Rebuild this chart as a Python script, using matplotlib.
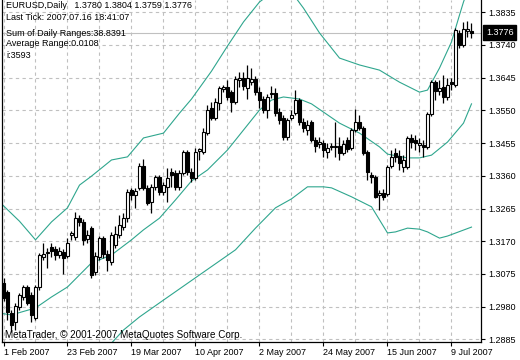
import numpy as np

from matplotlib import pyplot as plt
from matplotlib.transforms import blended_transform_factory

plt.rcParams['font.family'] = ['Liberation Sans', 'DejaVu Sans']

# daily EURUSD bars, 1 Feb 2007 .. 16 Jul 2007 (one entry per trading day)
opens = [1.3049, 1.3023, 1.2961, 1.2935, 1.2979, 1.3008, 1.3037, 1.3014, 1.2947, 1.3037,
         1.3124, 1.3136, 1.3153, 1.3147, 1.3130, 1.3139, 1.3127, 1.3188, 1.3182, 1.3237,
         1.3226, 1.3176, 1.3208, 1.3081, 1.3124, 1.3179, 1.3133, 1.3110, 1.3159, 1.3188,
         1.3211, 1.3237, 1.3319, 1.3304, 1.3325, 1.3389, 1.3325, 1.3284, 1.3328, 1.3357,
         1.3313, 1.3328, 1.3371, 1.3368, 1.3328, 1.3368, 1.3429, 1.3371, 1.3354, 1.3432,
         1.3429, 1.3484, 1.3557, 1.3528, 1.3571, 1.3612, 1.3618, 1.3603, 1.3574, 1.3638,
         1.3644, 1.3615, 1.3632, 1.3641, 1.3603, 1.3583, 1.3551, 1.3598, 1.3601, 1.3545,
         1.3528, 1.3473, 1.3528, 1.3542, 1.3580, 1.3516, 1.3493, 1.3516, 1.3464, 1.3452,
         1.3455, 1.3429, 1.3444, 1.3444, 1.3447, 1.3426, 1.3464, 1.3441, 1.3493, 1.3516,
         1.3499, 1.3429, 1.3362, 1.3357, 1.3304, 1.3310, 1.3307, 1.3389, 1.3426, 1.3418,
         1.3386, 1.3386, 1.3470, 1.3464, 1.3449, 1.3449, 1.3444, 1.3539, 1.3632, 1.3606,
         1.3618, 1.3589, 1.3632, 1.3624, 1.3775, 1.3740, 1.3781, 1.3780]
highs = [1.3063, 1.3028, 1.2970, 1.2990, 1.3020, 1.3043, 1.3043, 1.3023, 1.3043, 1.3136,
         1.3165, 1.3150, 1.3165, 1.3156, 1.3153, 1.3147, 1.3179, 1.3200, 1.3255, 1.3246,
         1.3234, 1.3203, 1.3214, 1.3139, 1.3185, 1.3185, 1.3145, 1.3197, 1.3214, 1.3246,
         1.3252, 1.3322, 1.3325, 1.3325, 1.3397, 1.3409, 1.3333, 1.3336, 1.3362, 1.3362,
         1.3342, 1.3383, 1.3383, 1.3377, 1.3377, 1.3435, 1.3435, 1.3383, 1.3441, 1.3441,
         1.3499, 1.3566, 1.3574, 1.3586, 1.3621, 1.3624, 1.3638, 1.3609, 1.3650, 1.3662,
         1.3662, 1.3682, 1.3673, 1.3650, 1.3618, 1.3592, 1.3598, 1.3621, 1.3615, 1.3557,
         1.3537, 1.3528, 1.3551, 1.3609, 1.3586, 1.3528, 1.3522, 1.3522, 1.3473, 1.3473,
         1.3464, 1.3455, 1.3455, 1.3516, 1.3473, 1.3464, 1.3473, 1.3499, 1.3554, 1.3537,
         1.3505, 1.3435, 1.3371, 1.3362, 1.3319, 1.3322, 1.3391, 1.3435, 1.3441, 1.3435,
         1.3420, 1.3476, 1.3481, 1.3478, 1.3470, 1.3464, 1.3545, 1.3638, 1.3638, 1.3638,
         1.3653, 1.3644, 1.3644, 1.3789, 1.3784, 1.3807, 1.3810, 1.3804]
lows = [1.2996, 1.2941, 1.2906, 1.2912, 1.2970, 1.2999, 1.2985, 1.2935, 1.2941, 1.3028,
        1.3116, 1.3092, 1.3124, 1.3116, 1.3121, 1.3075, 1.3121, 1.3174, 1.3174, 1.3214,
        1.3159, 1.3165, 1.3063, 1.3072, 1.3116, 1.3121, 1.3083, 1.3101, 1.3150, 1.3179,
        1.3203, 1.3226, 1.3290, 1.3267, 1.3319, 1.3319, 1.3275, 1.3252, 1.3319, 1.3304,
        1.3304, 1.3284, 1.3328, 1.3319, 1.3319, 1.3362, 1.3362, 1.3342, 1.3348, 1.3406,
        1.3423, 1.3478, 1.3522, 1.3522, 1.3551, 1.3603, 1.3580, 1.3545, 1.3569, 1.3618,
        1.3609, 1.3583, 1.3624, 1.3595, 1.3557, 1.3542, 1.3528, 1.3586, 1.3534, 1.3511,
        1.3464, 1.3464, 1.3522, 1.3537, 1.3508, 1.3487, 1.3478, 1.3458, 1.3429, 1.3441,
        1.3415, 1.3412, 1.3435, 1.3415, 1.3406, 1.3420, 1.3429, 1.3435, 1.3487, 1.3493,
        1.3420, 1.3348, 1.3339, 1.3296, 1.3261, 1.3290, 1.3302, 1.3383, 1.3400, 1.3377,
        1.3371, 1.3380, 1.3441, 1.3435, 1.3429, 1.3415, 1.3438, 1.3534, 1.3580, 1.3595,
        1.3571, 1.3580, 1.3609, 1.3618, 1.3731, 1.3734, 1.3763, 1.3759]
closes = [1.3005, 1.2964, 1.2927, 1.2982, 1.3014, 1.3037, 1.2990, 1.2956, 1.3037, 1.3130,
          1.3133, 1.3139, 1.3142, 1.3130, 1.3142, 1.3121, 1.3165, 1.3194, 1.3237, 1.3226,
          1.3174, 1.3188, 1.3072, 1.3127, 1.3179, 1.3133, 1.3116, 1.3188, 1.3191, 1.3217,
          1.3237, 1.3313, 1.3304, 1.3316, 1.3389, 1.3325, 1.3281, 1.3328, 1.3357, 1.3313,
          1.3333, 1.3354, 1.3362, 1.3328, 1.3368, 1.3429, 1.3371, 1.3354, 1.3429, 1.3438,
          1.3487, 1.3551, 1.3528, 1.3574, 1.3615, 1.3618, 1.3589, 1.3574, 1.3641, 1.3644,
          1.3621, 1.3644, 1.3641, 1.3603, 1.3580, 1.3551, 1.3589, 1.3601, 1.3542, 1.3522,
          1.3473, 1.3522, 1.3537, 1.3580, 1.3516, 1.3499, 1.3508, 1.3464, 1.3447, 1.3458,
          1.3435, 1.3441, 1.3447, 1.3447, 1.3426, 1.3452, 1.3438, 1.3493, 1.3516, 1.3499,
          1.3426, 1.3371, 1.3357, 1.3299, 1.3310, 1.3299, 1.3386, 1.3415, 1.3415, 1.3397,
          1.3406, 1.3470, 1.3458, 1.3455, 1.3455, 1.3444, 1.3539, 1.3632, 1.3606, 1.3615,
          1.3589, 1.3624, 1.3627, 1.3784, 1.3740, 1.3786, 1.3786, 1.3776]

# indicator lines (bar index, value)
upper_bars = [-1, 4, 8, 12, 16, 19, 22, 27, 31, 35, 40, 44, 47, 52, 56, 60, 64, 68, 72,
              75, 79, 84, 89, 94, 99, 104, 106, 109, 112, 114, 115, 117]
upper_vals = [1.3284, 1.3228, 1.3174, 1.3226, 1.3267, 1.3333, 1.3359, 1.3406, 1.3415,
              1.3470, 1.3484, 1.3542, 1.3583, 1.3664, 1.3737, 1.3807, 1.3865, 1.3900,
              1.3894, 1.3847, 1.3775, 1.3702, 1.3682, 1.3667, 1.3632, 1.3603, 1.3609,
              1.3673, 1.3749, 1.3827, 1.3865, 1.3929]
middle_bars = [-1, 2, 8, 12, 16, 22, 27, 32, 35, 39, 43, 47, 51, 56, 60, 64, 67, 70, 74,
               77, 80, 84, 89, 94, 96, 101, 104, 107, 111, 115, 117]
middle_vals = [1.2961, 1.2956, 1.2976, 1.3008, 1.3037, 1.3107, 1.3130, 1.3174, 1.3203,
               1.3237, 1.3290, 1.3345, 1.3377, 1.3435, 1.3493, 1.3551, 1.3580, 1.3589,
               1.3583, 1.3569, 1.3545, 1.3513, 1.3484, 1.3444, 1.3423, 1.3412, 1.3412,
               1.3420, 1.3458, 1.3513, 1.3569]
lower_bars = [25, 27, 30, 34, 40, 49, 58, 63, 68, 72, 76, 80, 82, 87, 92, 94, 96, 98,
              101, 104, 106, 109, 111, 117]
lower_vals = [1.2854, 1.2874, 1.2912, 1.2950, 1.2999, 1.3072, 1.3145, 1.3208, 1.3267,
              1.3293, 1.3328, 1.3328, 1.3325, 1.3299, 1.3270, 1.3232, 1.3194, 1.3197,
              1.3208, 1.3205, 1.3197, 1.3179, 1.3185, 1.3211]

date_bars = [0, 16, 32, 48, 64, 80, 96, 112]
date_labels = ['1 Feb 2007', '23 Feb 2007', '19 Mar 2007', '10 Apr 2007',
               '2 May 2007', '24 May 2007', '15 Jun 2007', '9 Jul 2007']
price_ticks = [1.3835, 1.3740, 1.3645, 1.3550, 1.3455, 1.3360, 1.3265,
               1.3170, 1.3075, 1.2980, 1.2885]
last_price = 1.3776

header = ['EURUSD,Daily   1.3780 1.3804 1.3759 1.3776',
          'Last Tick: 2007.07.16 18:41:07',
          'Sum of Daily Ranges:38.8391',
          'Average Range:0.0108',
          'i:3593']
header_y = [6, 18, 33, 44, 56]

FS = 6.5
band_color = '#2fa68e'
grid_color = '#c0c0c0'

fig = plt.figure(figsize=(5.2, 3.6), dpi=100)
ax = fig.add_axes([2 / 520, 18 / 360, 479 / 520, 342 / 360])
ax.set_xlim(-0.375, 119.375)
ax.set_ylim(1.28772, 1.38707)

# grid
for gx in range(0, 120, 8):
    ax.axvline(gx, color=grid_color, lw=0.8, dashes=(3, 3), zorder=0)
for gy in price_ticks:
    ax.axhline(gy, color=grid_color, lw=0.8, dashes=(3, 3), zorder=0)
ax.axhline(last_price, color=grid_color, lw=0.8, zorder=0)

# bands
ax.plot(upper_bars, upper_vals, color=band_color, lw=0.8, zorder=1)
ax.plot(middle_bars, middle_vals, color=band_color, lw=0.8, zorder=1)
ax.plot(lower_bars, lower_vals, color=band_color, lw=0.8, zorder=1)

# candles
o = np.array(opens)
h = np.array(highs)
l = np.array(lows)
c = np.array(closes)
x = np.arange(len(o))
ax.vlines(x, l, h, color='black', lw=0.9, zorder=2)
body_low = np.minimum(o, c)
body_h = np.maximum(np.abs(c - o), 0.00012)
face = np.where(c >= o, 'white', 'black')
ax.bar(x, body_h, 0.75, bottom=body_low, color=face, edgecolor='black',
       linewidth=0.8, zorder=3)

# axes look
ax.spines['top'].set_visible(False)
for s in ('left', 'right', 'bottom'):
    ax.spines[s].set_linewidth(0.9)
    ax.spines[s].set_color('black')
ax.yaxis.tick_right()
ax.set_yticks(price_ticks)
ax.set_yticklabels([f'{p:.4f}' for p in price_ticks], fontsize=FS)
ax.tick_params(axis='y', length=3, width=0.8, pad=2, direction='out')
ax.set_xticks(date_bars)
ax.set_xticklabels(date_labels, fontsize=FS)
ax.tick_params(axis='x', length=3, width=0.8, pad=1, direction='out')
for lab in ax.get_xticklabels():
    lab.set_ha('left')

# current price label
tr = blended_transform_factory(ax.transAxes, ax.transData)
ax.text(1 + 5 / 479, last_price, f'{last_price:.4f}', transform=tr, fontsize=FS,
        color='white', va='center', ha='left',
        bbox=dict(boxstyle='square,pad=0.3', fc='black', ec='black'))

for s, yy in zip(header, header_y):
    fig.text(6 / 520, 1 - yy / 360, s, fontsize=FS, va='center', ha='left')
fig.text(5 / 520, 1 - 335 / 360, 'MetaTrader, \u00a9 2001-2007 MetaQuotes Software Corp.',
         fontsize=7.1, va='center', ha='left')

fig.savefig('out.png', dpi=100, facecolor='white')
